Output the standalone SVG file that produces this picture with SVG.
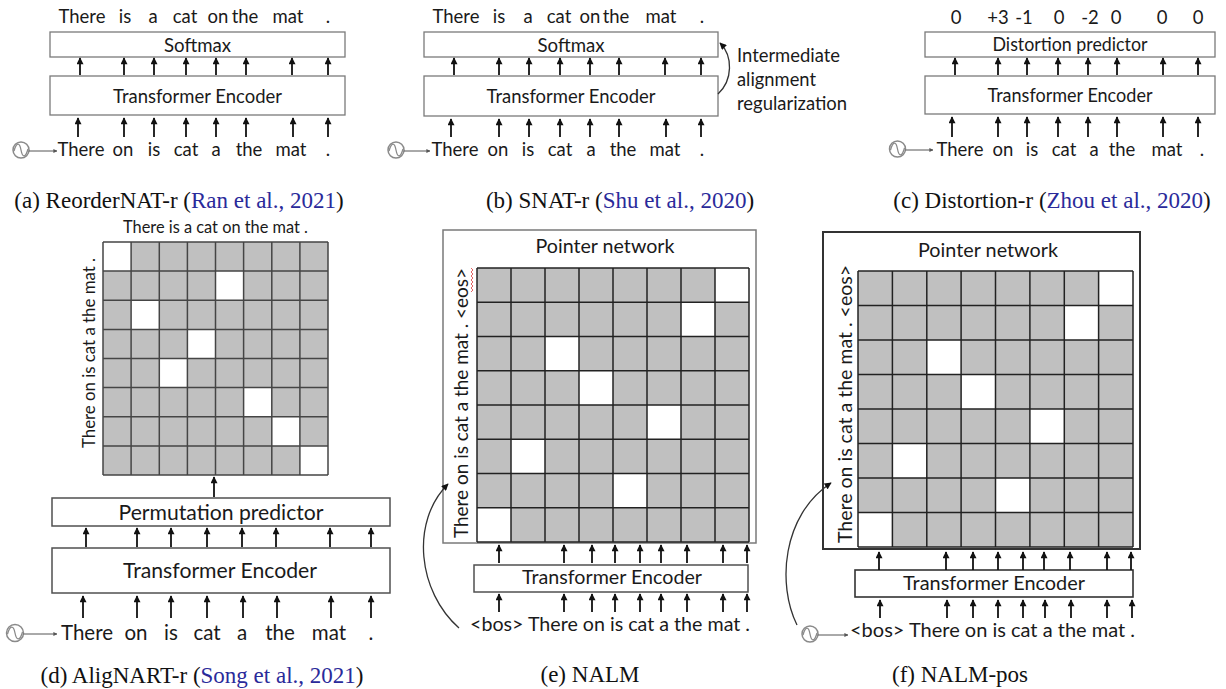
<svg xmlns="http://www.w3.org/2000/svg" width="1226" height="689" viewBox="0 0 1226 689">
<defs>
<style>
text{font-family:Lato,"Open Sans","Liberation Sans",sans-serif;fill:#1a1a1a}
.w{font-size:18.5px;text-anchor:middle}
.wd{font-size:20.5px;text-anchor:middle}
.bx{fill:#fff;stroke:#7a7a7a;stroke-width:1.3}
.bxd{fill:#fff;stroke:#505050;stroke-width:1.5}
.lb{font-size:18.5px;text-anchor:middle}
.cap{font-family:"Liberation Serif","Times New Roman",serif;font-size:23px;text-anchor:middle;fill:#111}
.cite{fill:#2a2a9a}
.ar{stroke:#111;stroke-width:1.8;fill:none;marker-end:url(#ah)}
.cv{stroke:#333;stroke-width:1.3;fill:none;marker-end:url(#ah)}
.wl{stroke:#555;stroke-width:1;fill:none;marker-end:url(#ahs)}
.wc{fill:#fff;stroke:#8a8a8a;stroke-width:1.5}
.ws{fill:none;stroke:#8a8a8a;stroke-width:1.3}
.cell{fill:#c0c0c0}
.wh{fill:#fff}
.gl{stroke:#454545;stroke-width:1.5}
.gle{stroke:#222;stroke-width:1.5}
</style>
<marker id="ah" viewBox="0 0 10 10" refX="9" refY="5" markerWidth="8" markerHeight="7" markerUnits="userSpaceOnUse" orient="auto"><path d="M0,0 L10,5 L0,10 z" fill="#111"/></marker>
<marker id="ahs" viewBox="0 0 10 10" refX="9" refY="5" markerWidth="4" markerHeight="4" markerUnits="userSpaceOnUse" orient="auto"><path d="M0,0 L10,5 L0,10 z" fill="#555"/></marker>
</defs>
<rect width="1226" height="689" fill="#fff"/>

<!-- ===== (a) ===== -->
<g id="a-output">
<text class="w" y="23"><tspan x="82">There</tspan><tspan x="125">is</tspan><tspan x="153">a</tspan><tspan x="185">cat</tspan><tspan x="218">on</tspan><tspan x="245">the</tspan><tspan x="288">mat</tspan><tspan x="328">.</tspan></text>
</g>
<g id="a-softmax"><rect class="bx" x="50" y="32" width="295" height="25"/><text class="lb" x="197.5" y="52" textLength="67" lengthAdjust="spacingAndGlyphs">Softmax</text></g>
<g id="a-encoder"><rect class="bx" x="50" y="76" width="295" height="39"/><text class="lb" x="197.5" y="103" textLength="169" lengthAdjust="spacingAndGlyphs">Transformer Encoder</text></g>
<g id="a-input">
<text class="w" y="156"><tspan x="81">There</tspan><tspan x="123">on</tspan><tspan x="154">is</tspan><tspan x="186">cat</tspan><tspan x="216">a</tspan><tspan x="249">the</tspan><tspan x="291">mat</tspan><tspan x="328">.</tspan></text>
<circle class="wc" cx="21" cy="150" r="8"/><path class="ws" d="M14,151 C16.5,142 19.5,142 21,150 C22.5,158 25.5,158 28,149"/>
<line class="wl" x1="29" y1="151" x2="57" y2="151"/>
</g>
<g id="a-connectors">
<line class="ar" x1="80" y1="75" x2="80" y2="58"/><line class="ar" x1="124" y1="75" x2="124" y2="58"/><line class="ar" x1="154" y1="75" x2="154" y2="58"/><line class="ar" x1="186" y1="75" x2="186" y2="58"/><line class="ar" x1="216" y1="75" x2="216" y2="58"/><line class="ar" x1="246" y1="75" x2="246" y2="58"/><line class="ar" x1="292" y1="75" x2="292" y2="58"/><line class="ar" x1="328" y1="75" x2="328" y2="58"/>
<line class="ar" x1="78" y1="137" x2="78" y2="118"/><line class="ar" x1="124" y1="137" x2="124" y2="118"/><line class="ar" x1="154" y1="137" x2="154" y2="118"/><line class="ar" x1="186" y1="137" x2="186" y2="118"/><line class="ar" x1="216" y1="137" x2="216" y2="118"/><line class="ar" x1="246" y1="137" x2="246" y2="118"/><line class="ar" x1="293" y1="137" x2="293" y2="118"/><line class="ar" x1="328" y1="137" x2="328" y2="118"/>
</g>
<text class="cap" x="179" y="208">(a) ReorderNAT-r (<tspan class="cite">Ran et al., 2021</tspan>)</text>

<!-- ===== (b) ===== -->
<g id="b-output">
<text class="w" y="23"><tspan x="456">There</tspan><tspan x="499">is</tspan><tspan x="528">a</tspan><tspan x="559">cat</tspan><tspan x="590">on</tspan><tspan x="616">the</tspan><tspan x="661">mat</tspan><tspan x="702">.</tspan></text>
</g>
<g id="b-softmax"><rect class="bx" x="424" y="32" width="294" height="25"/><text class="lb" x="571" y="52" textLength="67" lengthAdjust="spacingAndGlyphs">Softmax</text></g>
<g id="b-encoder"><rect class="bx" x="424" y="76" width="294" height="40"/><text class="lb" x="571" y="103" textLength="169" lengthAdjust="spacingAndGlyphs">Transformer Encoder</text></g>
<g id="b-note">
<text x="737" y="62" font-size="18.5" textLength="103" lengthAdjust="spacingAndGlyphs">Intermediate</text>
<text x="737" y="86" font-size="18.5" textLength="79" lengthAdjust="spacingAndGlyphs">alignment</text>
<text x="737" y="110" font-size="18.5" textLength="110" lengthAdjust="spacingAndGlyphs">regularization</text>
</g>
<g id="b-input">
<text class="w" y="156"><tspan x="455">There</tspan><tspan x="498">on</tspan><tspan x="528">is</tspan><tspan x="560">cat</tspan><tspan x="591">a</tspan><tspan x="623">the</tspan><tspan x="665">mat</tspan><tspan x="702">.</tspan></text>
<circle class="wc" cx="396" cy="150" r="8"/><path class="ws" d="M389,151 C391.5,142 394.5,142 396,150 C397.5,158 400.5,158 403,149"/>
<line class="wl" x1="404" y1="151" x2="430" y2="151"/>
</g>
<g id="b-connectors">
<line class="ar" x1="454" y1="75" x2="454" y2="58"/><line class="ar" x1="499" y1="75" x2="499" y2="58"/><line class="ar" x1="529" y1="75" x2="529" y2="58"/><line class="ar" x1="560" y1="75" x2="560" y2="58"/><line class="ar" x1="590" y1="75" x2="590" y2="58"/><line class="ar" x1="619" y1="75" x2="619" y2="58"/><line class="ar" x1="665" y1="75" x2="665" y2="58"/><line class="ar" x1="701" y1="75" x2="701" y2="58"/>
<line class="ar" x1="451" y1="137" x2="451" y2="119"/><line class="ar" x1="499" y1="137" x2="499" y2="119"/><line class="ar" x1="529" y1="137" x2="529" y2="119"/><line class="ar" x1="560" y1="137" x2="560" y2="119"/><line class="ar" x1="590" y1="137" x2="590" y2="119"/><line class="ar" x1="619" y1="137" x2="619" y2="119"/><line class="ar" x1="666" y1="137" x2="666" y2="119"/><line class="ar" x1="701" y1="137" x2="701" y2="119"/>
<path class="cv" d="M718,94 C733,80 733,56 720,43"/>
</g>
<text class="cap" x="620" y="208">(b) SNAT-r (<tspan class="cite">Shu et al., 2020</tspan>)</text>

<!-- ===== (c) ===== -->
<g id="c-output">
<text class="w" y="24"><tspan x="956">0</tspan><tspan x="998">+3</tspan><tspan x="1024">-1</tspan><tspan x="1059">0</tspan><tspan x="1090">-2</tspan><tspan x="1116">0</tspan><tspan x="1162">0</tspan><tspan x="1198">0</tspan></text>
</g>
<g id="c-predictor"><rect class="bx" x="925" y="32" width="290" height="25"/><text class="lb" x="1070" y="51" textLength="155" lengthAdjust="spacingAndGlyphs">Distortion predictor</text></g>
<g id="c-encoder"><rect class="bx" x="925" y="76" width="290" height="38"/><text class="lb" x="1070" y="102" textLength="165" lengthAdjust="spacingAndGlyphs">Transformer Encoder</text></g>
<g id="c-input">
<text class="w" y="156"><tspan x="960">There</tspan><tspan x="1003">on</tspan><tspan x="1032">is</tspan><tspan x="1064">cat</tspan><tspan x="1094">a</tspan><tspan x="1122">the</tspan><tspan x="1167">mat</tspan><tspan x="1202">.</tspan></text>
<circle class="wc" cx="897.5" cy="149" r="8"/><path class="ws" d="M890.5,150 C893,141 896,141 897.5,149 C899,157 902,157 904.5,148"/>
<line class="wl" x1="905.5" y1="150" x2="933" y2="150"/>
</g>
<g id="c-connectors">
<line class="ar" x1="955" y1="75" x2="955" y2="58"/><line class="ar" x1="998" y1="75" x2="998" y2="58"/><line class="ar" x1="1027" y1="75" x2="1027" y2="58"/><line class="ar" x1="1058" y1="75" x2="1058" y2="58"/><line class="ar" x1="1088" y1="75" x2="1088" y2="58"/><line class="ar" x1="1117" y1="75" x2="1117" y2="58"/><line class="ar" x1="1163" y1="75" x2="1163" y2="58"/><line class="ar" x1="1198" y1="75" x2="1198" y2="58"/>
<line class="ar" x1="952" y1="137" x2="952" y2="117"/><line class="ar" x1="998" y1="137" x2="998" y2="117"/><line class="ar" x1="1027" y1="137" x2="1027" y2="117"/><line class="ar" x1="1058" y1="137" x2="1058" y2="117"/><line class="ar" x1="1088" y1="137" x2="1088" y2="117"/><line class="ar" x1="1117" y1="137" x2="1117" y2="117"/><line class="ar" x1="1163" y1="137" x2="1163" y2="117"/><line class="ar" x1="1198" y1="137" x2="1198" y2="117"/>
</g>
<text class="cap" x="1052" y="208">(c) Distortion-r (<tspan class="cite">Zhou et al., 2020</tspan>)</text>

<!-- ===== (d) ===== -->
<g id="d-matrix">
<text x="215.5" y="233" font-size="16.5" text-anchor="middle" textLength="185" lengthAdjust="spacingAndGlyphs">There is a cat on the mat .</text>
<text transform="translate(95,353) rotate(-90)" font-size="16.5" text-anchor="middle" textLength="190" lengthAdjust="spacingAndGlyphs">There on is cat a the mat .</text>
<rect class="cell" x="103" y="242" width="225" height="233"/>
<rect class="wh" x="103" y="242" width="28.1" height="29.1"/>
<rect class="wh" x="215.5" y="271.1" width="28.1" height="29.1"/>
<rect class="wh" x="131.1" y="300.2" width="28.1" height="29.1"/>
<rect class="wh" x="187.4" y="329.4" width="28.1" height="29.1"/>
<rect class="wh" x="159.3" y="358.5" width="28.1" height="29.1"/>
<rect class="wh" x="243.6" y="387.6" width="28.1" height="29.1"/>
<rect class="wh" x="271.8" y="416.8" width="28.1" height="29.1"/>
<rect class="wh" x="299.9" y="445.9" width="28.1" height="29.1"/>
<g class="gl">
<line x1="103" y1="242" x2="103" y2="475"/><line x1="131.1" y1="242" x2="131.1" y2="475"/><line x1="159.3" y1="242" x2="159.3" y2="475"/><line x1="187.4" y1="242" x2="187.4" y2="475"/><line x1="215.5" y1="242" x2="215.5" y2="475"/><line x1="243.6" y1="242" x2="243.6" y2="475"/><line x1="271.8" y1="242" x2="271.8" y2="475"/><line x1="299.9" y1="242" x2="299.9" y2="475"/><line x1="328" y1="242" x2="328" y2="475"/>
<line x1="103" y1="242" x2="328" y2="242"/><line x1="103" y1="271.1" x2="328" y2="271.1"/><line x1="103" y1="300.2" x2="328" y2="300.2"/><line x1="103" y1="329.4" x2="328" y2="329.4"/><line x1="103" y1="358.5" x2="328" y2="358.5"/><line x1="103" y1="387.6" x2="328" y2="387.6"/><line x1="103" y1="416.8" x2="328" y2="416.8"/><line x1="103" y1="445.9" x2="328" y2="445.9"/><line x1="103" y1="475" x2="328" y2="475"/>
</g>
</g>
<g id="d-predictor"><rect class="bxd" x="52" y="498" width="338" height="28"/><text x="221" y="520" font-size="20.5" text-anchor="middle" textLength="205" lengthAdjust="spacingAndGlyphs">Permutation predictor</text></g>
<g id="d-encoder"><rect class="bxd" x="52" y="548" width="338" height="45"/><text x="220" y="578" font-size="20.5" text-anchor="middle" textLength="194" lengthAdjust="spacingAndGlyphs">Transformer Encoder</text></g>
<g id="d-input">
<text class="wd" y="640"><tspan x="87">There</tspan><tspan x="136">on</tspan><tspan x="171">is</tspan><tspan x="207">cat</tspan><tspan x="242">a</tspan><tspan x="280">the</tspan><tspan x="329">mat</tspan><tspan x="371">.</tspan></text>
<circle class="wc" cx="15" cy="633" r="8.5"/><path class="ws" d="M7.5,634 C10,625 13.5,625 15,633 C16.5,641 20,641 22.5,632"/>
<line class="wl" x1="23.5" y1="634" x2="57" y2="634"/>
</g>
<g id="d-connectors">
<line class="ar" x1="214" y1="497" x2="214" y2="477"/>
<line class="ar" x1="86" y1="547" x2="86" y2="528"/><line class="ar" x1="137" y1="547" x2="137" y2="528"/><line class="ar" x1="171" y1="547" x2="171" y2="528"/><line class="ar" x1="207" y1="547" x2="207" y2="528"/><line class="ar" x1="242" y1="547" x2="242" y2="528"/><line class="ar" x1="276" y1="547" x2="276" y2="528"/><line class="ar" x1="330" y1="547" x2="330" y2="528"/><line class="ar" x1="371" y1="547" x2="371" y2="528"/>
<line class="ar" x1="83" y1="618" x2="83" y2="596"/><line class="ar" x1="137" y1="618" x2="137" y2="596"/><line class="ar" x1="171" y1="618" x2="171" y2="596"/><line class="ar" x1="207" y1="618" x2="207" y2="596"/><line class="ar" x1="243" y1="618" x2="243" y2="596"/><line class="ar" x1="277" y1="618" x2="277" y2="596"/><line class="ar" x1="331" y1="618" x2="331" y2="596"/><line class="ar" x1="371" y1="618" x2="371" y2="596"/>
</g>
<text class="cap" x="202" y="683">(d) AligNART-r (<tspan class="cite">Song et al., 2021</tspan>)</text>

<!-- ===== (e) ===== -->
<g id="e-pointer">
<rect x="443" y="230" width="313" height="313" fill="#fff" stroke="#7a7a7a" stroke-width="1.5"/>
<text x="605" y="253" font-size="19" text-anchor="middle" textLength="139" lengthAdjust="spacingAndGlyphs">Pointer network</text>
<text transform="translate(468,403) rotate(-90)" font-size="19" text-anchor="middle" textLength="270" lengthAdjust="spacingAndGlyphs">There on is cat a the mat . &lt;eos&gt;</text>
<path d="M471,268 l2,2 l-2,2 l2,2 l-2,2 l2,2 l-2,2 l2,2 l-2,2 l2,2 l-2,2 l2,2 l-2,2" fill="none" stroke="#e05050" stroke-width="0.9"/>
<rect class="cell" x="477" y="268" width="272" height="274"/>
<rect class="wh" x="715" y="268" width="34" height="34.25"/>
<rect class="wh" x="681" y="302.25" width="34" height="34.25"/>
<rect class="wh" x="545" y="336.5" width="34" height="34.25"/>
<rect class="wh" x="579" y="370.75" width="34" height="34.25"/>
<rect class="wh" x="647" y="405" width="34" height="34.25"/>
<rect class="wh" x="511" y="439.25" width="34" height="34.25"/>
<rect class="wh" x="613" y="473.5" width="34" height="34.25"/>
<rect class="wh" x="477" y="507.75" width="34" height="34.25"/>
<g class="gle">
<line x1="477" y1="268" x2="477" y2="542"/><line x1="511" y1="268" x2="511" y2="542"/><line x1="545" y1="268" x2="545" y2="542"/><line x1="579" y1="268" x2="579" y2="542"/><line x1="613" y1="268" x2="613" y2="542"/><line x1="647" y1="268" x2="647" y2="542"/><line x1="681" y1="268" x2="681" y2="542"/><line x1="715" y1="268" x2="715" y2="542"/><line x1="749" y1="268" x2="749" y2="542"/>
<line x1="477" y1="268" x2="749" y2="268"/><line x1="477" y1="302.25" x2="749" y2="302.25"/><line x1="477" y1="336.5" x2="749" y2="336.5"/><line x1="477" y1="370.75" x2="749" y2="370.75"/><line x1="477" y1="405" x2="749" y2="405"/><line x1="477" y1="439.25" x2="749" y2="439.25"/><line x1="477" y1="473.5" x2="749" y2="473.5"/><line x1="477" y1="507.75" x2="749" y2="507.75"/><line x1="477" y1="542" x2="749" y2="542"/>
</g>
</g>
<g id="e-encoder"><rect class="bxd" x="474" y="565" width="274" height="27"/><text x="612" y="584" font-size="19" text-anchor="middle" textLength="180" lengthAdjust="spacingAndGlyphs">Transformer Encoder</text></g>
<g id="e-input"><text x="470" y="631" font-size="19" textLength="280" lengthAdjust="spacingAndGlyphs">&lt;bos&gt; There on is cat a the mat .</text></g>
<g id="e-connectors">
<line class="ar" x1="499" y1="563" x2="499" y2="545"/><line class="ar" x1="564" y1="563" x2="564" y2="545"/><line class="ar" x1="592" y1="563" x2="592" y2="545"/><line class="ar" x1="615" y1="563" x2="615" y2="545"/><line class="ar" x1="640" y1="563" x2="640" y2="545"/><line class="ar" x1="661" y1="563" x2="661" y2="545"/><line class="ar" x1="687" y1="563" x2="687" y2="545"/><line class="ar" x1="723" y1="563" x2="723" y2="545"/><line class="ar" x1="747" y1="563" x2="747" y2="545"/>
<line class="ar" x1="499" y1="612" x2="499" y2="594"/><line class="ar" x1="564" y1="612" x2="564" y2="594"/><line class="ar" x1="592" y1="612" x2="592" y2="594"/><line class="ar" x1="615" y1="612" x2="615" y2="594"/><line class="ar" x1="640" y1="612" x2="640" y2="594"/><line class="ar" x1="661" y1="612" x2="661" y2="594"/><line class="ar" x1="687" y1="612" x2="687" y2="594"/><line class="ar" x1="723" y1="612" x2="723" y2="594"/><line class="ar" x1="747" y1="612" x2="747" y2="594"/>
<path class="cv" d="M459,628 C418,592 410,522 448,484"/>
</g>
<text class="cap" x="590" y="682">(e) NALM</text>

<!-- ===== (f) ===== -->
<g id="f-pointer">
<rect x="823" y="232" width="317" height="317" fill="#fff" stroke="#333" stroke-width="2"/>
<text x="988" y="257" font-size="19.5" text-anchor="middle" textLength="140" lengthAdjust="spacingAndGlyphs">Pointer network</text>
<text transform="translate(852,404) rotate(-90)" font-size="19.5" text-anchor="middle" textLength="278" lengthAdjust="spacingAndGlyphs">There on is cat a the mat . &lt;eos&gt;</text>
<rect class="cell" x="858" y="271" width="275" height="276"/>
<rect class="wh" x="1098.6" y="271" width="34.4" height="34.5"/>
<rect class="wh" x="1064.3" y="305.5" width="34.4" height="34.5"/>
<rect class="wh" x="926.8" y="340" width="34.4" height="34.5"/>
<rect class="wh" x="961.1" y="374.5" width="34.4" height="34.5"/>
<rect class="wh" x="1029.9" y="409" width="34.4" height="34.5"/>
<rect class="wh" x="892.4" y="443.5" width="34.4" height="34.5"/>
<rect class="wh" x="995.5" y="478" width="34.4" height="34.5"/>
<rect class="wh" x="858" y="512.5" width="34.4" height="34.5"/>
<g class="gle">
<line x1="858" y1="271" x2="858" y2="547"/><line x1="892.4" y1="271" x2="892.4" y2="547"/><line x1="926.8" y1="271" x2="926.8" y2="547"/><line x1="961.1" y1="271" x2="961.1" y2="547"/><line x1="995.5" y1="271" x2="995.5" y2="547"/><line x1="1029.9" y1="271" x2="1029.9" y2="547"/><line x1="1064.3" y1="271" x2="1064.3" y2="547"/><line x1="1098.6" y1="271" x2="1098.6" y2="547"/><line x1="1133" y1="271" x2="1133" y2="547"/>
<line x1="858" y1="271" x2="1133" y2="271"/><line x1="858" y1="305.5" x2="1133" y2="305.5"/><line x1="858" y1="340" x2="1133" y2="340"/><line x1="858" y1="374.5" x2="1133" y2="374.5"/><line x1="858" y1="409" x2="1133" y2="409"/><line x1="858" y1="443.5" x2="1133" y2="443.5"/><line x1="858" y1="478" x2="1133" y2="478"/><line x1="858" y1="512.5" x2="1133" y2="512.5"/><line x1="858" y1="547" x2="1133" y2="547"/>
</g>
</g>
<g id="f-encoder"><rect x="855" y="570" width="278" height="27" fill="#fff" stroke="#333" stroke-width="1.6"/><text x="994" y="590" font-size="19.5" text-anchor="middle" textLength="182" lengthAdjust="spacingAndGlyphs">Transformer Encoder</text></g>
<g id="f-input">
<text x="850" y="637" font-size="19.5" textLength="285" lengthAdjust="spacingAndGlyphs">&lt;bos&gt; There on is cat a the mat .</text>
<circle class="wc" cx="810" cy="634" r="8"/><path class="ws" d="M803,635 C805.5,626 808.5,626 810,634 C811.5,642 814.5,642 817,633"/>
<line class="wl" x1="818" y1="635" x2="848" y2="635"/>
</g>
<g id="f-connectors">
<line class="ar" x1="879" y1="570" x2="879" y2="552"/><line class="ar" x1="946" y1="570" x2="946" y2="552"/><line class="ar" x1="973" y1="570" x2="973" y2="552"/><line class="ar" x1="998" y1="570" x2="998" y2="552"/><line class="ar" x1="1023" y1="570" x2="1023" y2="552"/><line class="ar" x1="1044" y1="570" x2="1044" y2="552"/><line class="ar" x1="1070" y1="570" x2="1070" y2="552"/><line class="ar" x1="1107" y1="570" x2="1107" y2="552"/><line class="ar" x1="1131" y1="570" x2="1131" y2="552"/>
<line class="ar" x1="880" y1="618" x2="880" y2="600"/><line class="ar" x1="947" y1="618" x2="947" y2="600"/><line class="ar" x1="973" y1="618" x2="973" y2="600"/><line class="ar" x1="998" y1="618" x2="998" y2="600"/><line class="ar" x1="1023" y1="618" x2="1023" y2="600"/><line class="ar" x1="1045" y1="618" x2="1045" y2="600"/><line class="ar" x1="1071" y1="618" x2="1071" y2="600"/><line class="ar" x1="1107" y1="618" x2="1107" y2="600"/><line class="ar" x1="1132" y1="618" x2="1132" y2="600"/>
<path class="cv" d="M797,625 C777,585 782,515 831,483"/>
</g>
<text class="cap" x="960" y="682">(f) NALM-pos</text>
</svg>
